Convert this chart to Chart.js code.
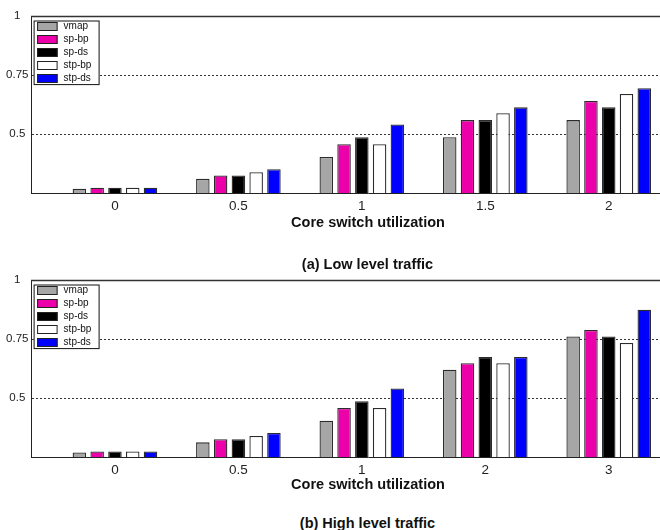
<!DOCTYPE html>
<html><head><meta charset="utf-8">
<script src="https://cdn.jsdelivr.net/npm/chart.js@4.4.1/dist/chart.umd.min.js"></script>
<style>
html,body{margin:0;padding:0;width:660px;height:530px;overflow:hidden;background:#fff;}
canvas{display:block;position:absolute;left:0;}
.cap{position:absolute;left:0;width:735px;text-align:center;font:bold 14.5px "Liberation Sans",Arial,sans-serif;line-height:18px;color:#111;}
</style></head>
<body>
<canvas id="c1" width="705" height="235" style="top:0px"></canvas>
<canvas id="c2" width="705" height="235" style="top:264px"></canvas>
<div class="cap" id="cap1" style="top:255px"></div>
<div class="cap" id="cap2" style="top:514px"></div>
<script>
// ---- data ----
const seriesNames = ['vmap', 'sp-bp', 'sp-ds', 'stp-bp', 'stp-ds'];
const seriesColors = ['#a6a6a6', '#ec00aa', '#000000', '#ffffff', '#0000ff'];

const lowCategories = ['0', '0.5', '1', '1.5', '2'];
const lowVmap  = [0.268, 0.310, 0.403, 0.486, 0.559];
const lowSpBp  = [0.272, 0.324, 0.457, 0.559, 0.640];
const lowSpDs  = [0.272, 0.324, 0.486, 0.559, 0.613];
const lowStpBp = [0.272, 0.338, 0.457, 0.588, 0.670];
const lowStpDs = [0.272, 0.351, 0.540, 0.613, 0.694];

const highCategories = ['0', '0.5', '1', '2', '3'];
const highVmap  = [0.269, 0.312, 0.404, 0.620, 0.761];
const highSpBp  = [0.273, 0.325, 0.458, 0.647, 0.788];
const highSpDs  = [0.273, 0.325, 0.486, 0.674, 0.761];
const highStpBp = [0.273, 0.339, 0.458, 0.647, 0.733];
const highStpDs = [0.273, 0.352, 0.540, 0.674, 0.874];

const yTickValues = [0.5, 0.75, 1];
const axisTitle = 'Core switch utilization';
const captionLow = '(a) Low level traffic';
const captionHigh = '(b) High level traffic';

document.getElementById('cap1').textContent = captionLow;
document.getElementById('cap2').textContent = captionHigh;

const FONT = '"Liberation Sans", Arial, Helvetica, sans-serif';

const framePlugin = {
  id: 'frameLegend',
  afterDatasetsDraw(chart) {
    const {ctx, chartArea: a} = chart;
    ctx.save();
    ctx.strokeStyle = '#333';
    ctx.lineWidth = 1.5;
    ctx.beginPath();
    ctx.moveTo(a.left, a.top + 0.5);
    ctx.lineTo(a.right, a.top + 0.5);
    ctx.stroke();
    const bx = a.left + 2.6, by = a.top + 4.5, bw = 66, bh = 64.6;
    ctx.fillStyle = '#fff';
    ctx.fillRect(bx, by, bw, bh);
    ctx.strokeStyle = '#111';
    ctx.lineWidth = 1;
    ctx.strokeRect(bx + 0.5, by + 0.5, bw - 1, bh - 1);
    ctx.font = '10px ' + FONT;
    ctx.textBaseline = 'middle';
    ctx.textAlign = 'left';
    chart.data.datasets.forEach((ds, i) => {
      const cy = by + 6 + i * 13;
      ctx.fillStyle = ds.backgroundColor;
      ctx.fillRect(bx + 3.5, cy - 4.5, 20.5, 9);
      ctx.strokeStyle = '#222';
      ctx.strokeRect(bx + 4, cy - 4, 19.5, 8);
      ctx.fillStyle = '#111';
      ctx.fillText(ds.label, bx + 30, cy);
    });
    ctx.restore();
  }
};

function makeChart(id, categories, series, opt) {
  const datasets = series.map((vals, s) => ({
    label: seriesNames[s],
    data: vals.map((v, i) => ({x: i + 1, y: v})),
    backgroundColor: seriesColors[s],
    borderColor: '#2b2b2b',
    borderWidth: 1.3,
    categoryPercentage: 0.72,
    barPercentage: 0.76
  }));
  return new Chart(document.getElementById(id), {
    type: 'bar',
    data: {datasets},
    options: {
      responsive: false,
      animation: false,
      devicePixelRatio: 1,
      layout: {padding: {top: 16, left: 0, right: 0, bottom: 0}},
      plugins: {legend: {display: false}, tooltip: {enabled: false}},
      scales: {
        x: {
          type: 'linear',
          offset: false,
          min: 0.32,
          max: 5.78,
          afterBuildTicks: s => { s.ticks = categories.map((c, i) => ({value: i + 1})); },
          afterFit: s => { s.height = 42; },
          ticks: {
            callback: v => categories[Math.round(v) - 1],
            font: {family: FONT, size: 13.5},
            color: '#222',
            padding: opt.tickPad,
            autoSkip: false,
            maxRotation: 0
          },
          grid: {display: false, drawTicks: false, offset: false},
          border: {display: true, color: '#222', width: 1},
          title: {
            display: true,
            text: axisTitle,
            font: {family: FONT, size: 14.5, weight: 'bold'},
            color: '#111',
            padding: {top: 0, bottom: opt.titlePad}
          }
        },
        y: {
          min: 0.25,
          max: 1,
          afterBuildTicks: s => { s.ticks = yTickValues.map(v => ({value: v})); },
          afterFit: s => { s.width = 31; },
          ticks: {
            callback: v => String(v),
            font: {family: FONT, size: 11.5},
            color: '#222',
            padding: 2.5,
            crossAlign: 'center'
          },
          grid: {
            drawTicks: false,
            color: c => (c.tick && c.tick.value < 1) ? '#333' : 'rgba(0,0,0,0)',
            lineWidth: 1
          },
          border: {display: true, color: '#222', width: 1, dash: [2, 2]}
        }
      }
    },
    plugins: [framePlugin]
  });
}

makeChart('c1', lowCategories, [lowVmap, lowSpBp, lowSpDs, lowStpBp, lowStpDs], {tickPad: 5.6, titlePad: 3});
makeChart('c2', highCategories, [highVmap, highSpBp, highSpDs, highStpBp, highStpDs], {tickPad: 5, titlePad: 5.3});
</script>
</body></html>
